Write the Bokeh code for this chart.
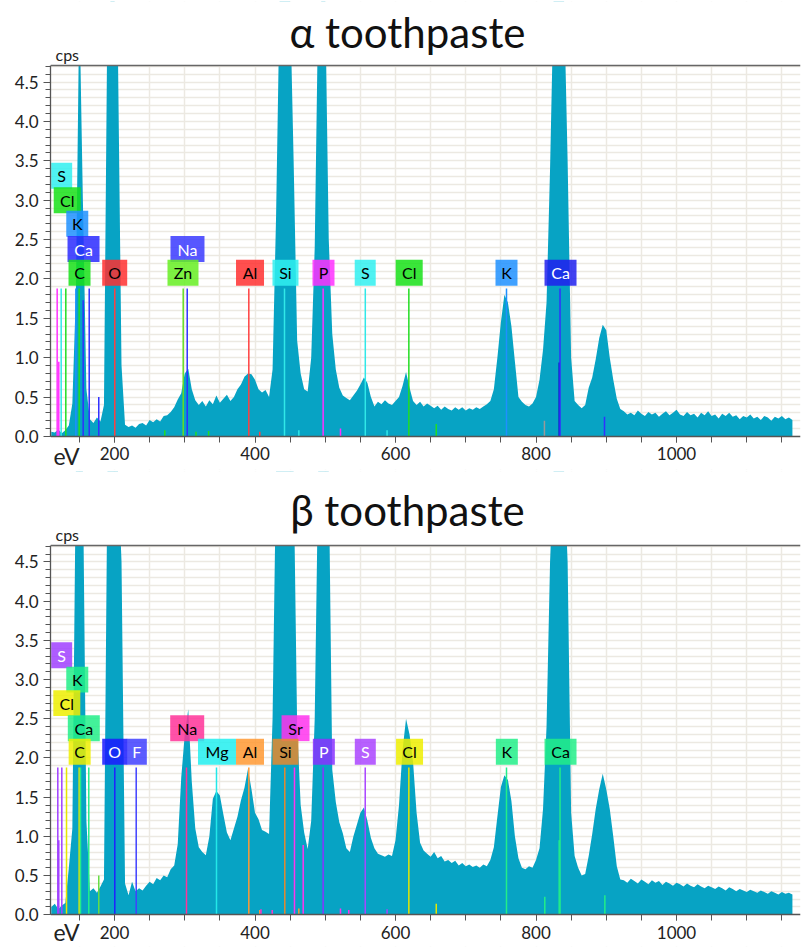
from bokeh.plotting import figure
from bokeh.layouts import column
from bokeh.models import (FixedTicker, PrintfTickFormatter, Label, Span, ColumnDataSource,
                          Range1d, BoxAnnotation)
from bokeh.core.properties import value
from bokeh.embed import file_html
from bokeh.resources import INLINE

FONT = "Lato"

# ---------------- data ----------------
energy = list(range(110, 1170, 5))  # channel grid (eV), 5 eV bins

counts_alpha = [
    0.06, 0.05, 0.09, 0.04, 0.08, 0.14, 0.42, 1.8, 9.0, 3.0,      # 110
    0.6, 0.22, 0.17, 0.24, 0.19, 0.4, 5.5, 12, 14, 4.8,           # 160
    0.9, 0.15, 0.12, 0.14, 0.11, 0.16, 0.17, 0.14, 0.21, 0.18,    # 210
    0.22, 0.19, 0.26, 0.27, 0.31, 0.37, 0.47, 0.55, 0.8, 0.86,    # 260
    0.6, 0.46, 0.4, 0.45, 0.38, 0.46, 0.41, 0.52, 0.43, 0.48,     # 310
    0.53, 0.45, 0.5, 0.6, 0.66, 0.76, 0.8, 0.79, 0.72, 0.6,       # 360
    0.56, 0.59, 0.5, 0.85, 2.8, 8.0, 15, 16, 12, 3.5,             # 410
    1.22, 0.8, 0.6, 0.57, 1.0, 2.4, 5.5, 14, 12, 2.5,             # 460
    1.3, 0.85, 0.62, 0.52, 0.49, 0.46, 0.52, 0.58, 0.66, 0.75,    # 510
    0.68, 0.5, 0.38, 0.44, 0.41, 0.46, 0.42, 0.4, 0.45, 0.5,      # 560
    0.64, 0.82, 0.62, 0.45, 0.4, 0.44, 0.38, 0.42, 0.39, 0.36,    # 610
    0.39, 0.34, 0.38, 0.35, 0.33, 0.37, 0.34, 0.37, 0.33, 0.36,   # 660
    0.34, 0.37, 0.35, 0.38, 0.41, 0.45, 0.6, 1.0, 1.45, 1.8,      # 710
    1.7, 1.4, 0.95, 0.5, 0.44, 0.4, 0.38, 0.42, 0.5, 0.72,        # 760
    1.1, 1.7, 3.4, 12, 16, 15, 8, 3.5, 1.0, 0.45,                 # 810
    0.4, 0.36, 0.4, 0.62, 0.75, 0.98, 1.25, 1.42, 1.35, 1.0,      # 860
    0.72, 0.48, 0.35, 0.32, 0.28, 0.3, 0.27, 0.33, 0.29, 0.26,    # 910
    0.31, 0.28, 0.3, 0.25, 0.29, 0.32, 0.27, 0.3, 0.34, 0.28,     # 960
    0.26, 0.31, 0.27, 0.29, 0.24, 0.3, 0.27, 0.32, 0.26, 0.28,    # 1010
    0.23, 0.29, 0.26, 0.3, 0.25, 0.27, 0.22, 0.26, 0.24, 0.28,    # 1060
    0.23, 0.25, 0.21, 0.26, 0.24, 0.2, 0.25, 0.23, 0.26, 0.22,    # 1110
    0.24, 0.21,                                                   # 1160
]

counts_beta = [
    0.1, 0.14, 0.07, 0.12, 0.15, 0.6, 1.1, 6, 12, 8,              # 110
    1.2, 0.3, 0.34, 0.28, 0.36, 0.45, 6, 14, 16, 14,              # 160
    4.5, 0.4, 0.25, 0.42, 0.3, 0.34, 0.31, 0.37, 0.42, 0.39,      # 210
    0.47, 0.44, 0.5, 0.48, 0.58, 0.63, 0.9, 1.75, 2.3, 2.62,      # 260
    1.7, 1.1, 0.86, 0.8, 0.76, 1.0, 1.48, 1.58, 1.52, 1.28,       # 310
    1.05, 0.95, 1.1, 1.25, 1.46, 1.62, 1.86, 1.6, 1.3, 1.22,      # 360
    1.08, 1.06, 1.03, 2.5, 8, 16, 18, 17, 14, 8,                  # 410
    2.4, 1.4, 1.05, 0.84, 1.2, 2.5, 8, 16, 18, 9,                 # 460
    1.85, 1.44, 1.18, 1.04, 0.85, 0.8, 1.0, 1.15, 1.3, 1.37,      # 510
    1.2, 0.98, 0.85, 0.78, 0.76, 0.74, 0.77, 0.75, 0.95, 1.4,     # 560
    2.1, 2.5, 2.3, 1.95, 1.3, 0.92, 0.82, 0.78, 0.74, 0.8,        # 610
    0.72, 0.75, 0.68, 0.7, 0.66, 0.69, 0.63, 0.66, 0.62, 0.64,    # 660
    0.61, 0.63, 0.6, 0.64, 0.62, 0.7, 0.86, 1.25, 1.63, 1.78,     # 710
    1.72, 1.45, 1.0, 0.72, 0.6, 0.58, 0.62, 0.6, 0.7, 0.85,       # 760
    1.35, 2.4, 4.5, 14, 18, 17, 12, 4.5, 1.3, 0.75,               # 810
    0.6, 0.5, 0.52, 0.75, 1.03, 1.35, 1.6, 1.8, 1.6, 1.35,        # 860
    1.0, 0.62, 0.45, 0.44, 0.41, 0.46, 0.43, 0.4, 0.45, 0.42,     # 910
    0.39, 0.44, 0.41, 0.43, 0.38, 0.42, 0.4, 0.37, 0.41, 0.39,    # 960
    0.36, 0.4, 0.37, 0.35, 0.39, 0.36, 0.34, 0.37, 0.35, 0.33,    # 1010
    0.36, 0.34, 0.31, 0.35, 0.33, 0.3, 0.33, 0.31, 0.29, 0.32,    # 1060
    0.3, 0.28, 0.31, 0.29, 0.27, 0.3, 0.28, 0.26, 0.29, 0.27,     # 1110
    0.28, 0.26,                                                   # 1160
]

x_ticks = [200, 400, 600, 800, 1000]
x_minor = [150, 200, 250, 300, 350, 400, 450, 500, 550, 600, 650, 700, 750,
           800, 850, 900, 950, 1000, 1050, 1100, 1150]
y_ticks = [0.0, 0.5, 1.0, 1.5, 2.0, 2.5, 3.0, 3.5, 4.0, 4.5]
y_minor = [i / 10 for i in range(0, 48)]

# element marker lines (energy, height in cps, colour)
mark_a_e = [118.4, 120.7, 124.1, 130.7, 145.0, 149.7, 155.4, 164.0, 177.6, 200.4,
            271.6, 297.8, 303.5, 316.0, 334.0, 391.2, 406.8, 442.0, 462.4, 497.0,
            521.7, 557.0, 588.0, 619.0, 658.0, 758.0, 812.0, 833.0, 834.2, 897.5]
mark_a_h = [1.88, 0.95, 1.88, 1.88, 1.88, 1.88, 1.73, 1.88, 0.5, 1.88,
            0.08, 1.88, 1.88, 0.06, 0.07, 1.88, 0.06, 1.88, 0.08, 1.88,
            0.1, 1.88, 0.08, 1.88, 0.16, 1.88, 0.2, 0.94, 1.88, 0.25]
mark_a_c = ["#ff30ff", "#ff30ff", "#30e8e8", "#22dd22", "#1e90ff", "#22dd22", "#3030ff", "#3030ff", "#3030ff", "#ff4040",
            "#22dd22", "#66dd22", "#3030ff", "#22dd22", "#22dd22", "#ff4040", "#ff4040", "#30e8e8", "#30e8e8", "#ff30ff",
            "#ff30ff", "#30e8e8", "#30e8e8", "#22dd22", "#22dd22", "#1e90ff", "#999999", "#1010cc", "#3030ff", "#3030ff"]

mark_b_e = [119.3, 120.7, 125.0, 131.7, 149.7, 151.6, 163.4, 177.6, 200.4, 230.9,
            302.5, 345.2, 391.2, 406.8, 408.5, 424.5, 442.4, 456.2, 462.4, 468.6,
            497.0, 521.7, 533.5, 556.9, 588.0, 619.0, 658.0, 758.0, 812.5, 833.0,
            834.2, 898.0]
mark_b_h = [1.88, 0.95, 1.88, 1.88, 1.88, 1.88, 1.88, 0.5, 1.88, 1.88,
            1.88, 1.88, 1.88, 0.06, 0.07, 0.06, 1.88, 1.88, 0.08, 0.89,
            1.88, 0.08, 0.06, 1.88, 0.07, 1.88, 0.14, 1.88, 0.23, 0.95,
            1.88, 0.25]
mark_b_c = ["#a040ff", "#a040ff", "#a040ff", "#e6e600", "#e6e600", "#22ee88", "#22ee88", "#66dd44", "#2020ff", "#4040ff",
            "#ff3399", "#22e8e8", "#ff9933", "#ff9933", "#ff33cc", "#ff33cc", "#e6892e", "#ff33ee", "#ff9933", "#ff33ee",
            "#8833ff", "#ff33ee", "#ff33ee", "#aa44ff", "#aa44ff", "#e6e600", "#e6e600", "#22ee88", "#22ee88", "#22ee88",
            "#22ee88", "#22ee88"]

# element labels (text, centre energy, row)
lab_a_t = ["S", "Cl", "K", "Ca", "Na", "C", "O", "Zn", "Al", "Si", "P", "S", "Cl", "K", "Ca"]
lab_a_x = [124.8, 132.7, 147.0, 155.9, 303.9, 150.2, 200.3, 297.5, 392.9, 443.4, 497.5, 556.9, 619.5, 758.0, 834.9]
lab_a_r = [5, 4, 3, 2, 2, 1, 1, 1, 1, 1, 1, 1, 1, 1, 1]
lab_a_c = ["#30f0f0", "#18e018", "#1e90ff", "#2a2aff", "#3a3aff", "#18e018", "#ff3030", "#66ee22", "#ff3030",
           "#30f0f0", "#ff30ff", "#30f0f0", "#18e018", "#1e90ff", "#2020ee"]

lab_b_t = ["S", "K", "Cl", "Ca", "Na", "Sr", "C", "O", "F", "Mg", "Al", "Si", "P", "S", "Cl", "K", "Ca"]
lab_b_x = [124.8, 147.0, 132.1, 156.3, 303.5, 457.7, 150.4, 200.3, 231.8, 345.9, 392.9, 443.4, 498.0, 557.0, 620.0, 758.5, 834.9]
lab_b_r = [5, 4, 3, 2, 2, 2, 1, 1, 1, 1, 1, 1, 1, 1, 1, 1, 1]
lab_b_c = ["#a040ff", "#22ee88", "#eeee00", "#22ee88", "#ff3399", "#ff33ee", "#eeee00", "#1a1aff", "#4040ff",
           "#22eeee", "#ff9933", "#e6892e", "#8833ff", "#aa44ff", "#eeee00", "#22ee88", "#22ee88"]

# ---------------- styling ----------------
ROW_Y = {1: 2.08, 2: 2.38, 3: 2.70, 4: 3.00, 5: 3.31}
BOX_W = {"S": 21, "Cl": 27, "K": 22, "Ca": 32, "C": 22, "O": 25, "Na": 34, "Zn": 31,
         "Al": 28, "Si": 26, "P": 22, "Mg": 38, "Sr": 28, "F": 20}
DARK = {"#2a2aff", "#3a3aff", "#2020ee", "#1a1aff", "#4040ff", "#a040ff", "#8833ff", "#aa44ff"}
SPEC = "#07a3c4"
YMAX = 4.71               # top of the cps window
X0, X1 = 108.9, 1176.5


def make(title, counts, me, mh, mc, lt, lx, lr, lc, height, y0, y1, title_y, cps_y, ev_y):
    p = figure(width=801, height=height, output_backend="svg", toolbar_location=None,
               x_range=Range1d(X0, X1), y_range=Range1d(y0, y1), title=None,
               min_border=1, min_border_left=50, min_border_right=1, min_border_top=1,
               min_border_bottom=1)
    p.outline_line_color = None
    p.background_fill_color = "white"
    p.border_fill_color = "white"

    # grid
    p.xgrid.ticker = FixedTicker(ticks=x_minor)
    p.ygrid.ticker = FixedTicker(ticks=y_minor)
    p.grid.grid_line_color = "#ece9e2"
    p.grid.grid_line_width = 1.5
    p.add_layout(BoxAnnotation(bottom=y0, top=0, fill_color="white", fill_alpha=1.0,
                               line_color=None, level="underlay"))

    # axes
    p.xaxis.fixed_location = 0
    p.xaxis.ticker = FixedTicker(ticks=x_ticks, minor_ticks=x_minor)
    p.yaxis.ticker = FixedTicker(ticks=y_ticks, minor_ticks=y_minor)
    p.yaxis.formatter = PrintfTickFormatter(format="%.1f")
    p.yaxis.bounds = (0, YMAX)
    for ax in (p.xaxis, p.yaxis):
        ax.axis_line_color = "#555555"
        ax.axis_line_width = 1.3
        ax.major_tick_line_color = "#555555"
        ax.minor_tick_line_color = "#555555"
        ax.major_tick_in = 0
        ax.minor_tick_in = 0
        ax.major_label_text_font = FONT
        ax.major_label_text_font_size = "17px"
        ax.major_label_text_color = "#222222"
    p.xaxis.major_tick_out = 6
    p.xaxis.minor_tick_out = 6
    p.xaxis.major_label_standoff = 5
    p.yaxis.major_tick_out = 7
    p.yaxis.minor_tick_out = 5
    p.yaxis.major_label_standoff = 5

    # spectrum (kept inside the plotting window; the part above YMAX is masked below)
    shown = [min(c, y1) for c in counts]
    p.varea(x=energy, y1=[0] * len(energy), y2=shown, fill_color=SPEC)

    # element marker lines
    msrc = ColumnDataSource(dict(e=me, h=mh, c=mc, z=[0] * len(me)))
    p.segment(x0="e", y0="z", x1="e", y1="h", line_color="c", line_width=1.5, source=msrc)

    # element labels
    lsrc = ColumnDataSource(dict(
        x=lx, y=[ROW_Y[r] for r in lr], t=lt, c=lc,
        w=[BOX_W[t] for t in lt],
        tc=["white" if c in DARK else "black" for c in lc]))
    p.rect(x="x", y="y", width="w", height=0.33, width_units="screen",
           fill_color="c", fill_alpha=0.85, line_color=None, source=lsrc)
    p.text(x="x", y="y", text="t", text_color="tc", text_align="center",
           text_baseline="middle", text_font=value(FONT), text_font_size="16px", source=lsrc)

    # white mask above the cps window: off-scale peaks are cut at the top edge
    p.add_layout(BoxAnnotation(bottom=YMAX, top=y1, fill_color="white", fill_alpha=1.0,
                               line_color=None))
    p.add_layout(Span(location=YMAX, dimension="width", line_color="#666666", line_width=1.3))

    # texts
    p.add_layout(Label(x=357, y=title_y, x_units="screen", y_units="data", text=title,
                       text_font=FONT, text_font_size="42px", text_color="#111111",
                       text_align="center", text_baseline="middle"))
    p.add_layout(Label(x=5, y=cps_y, x_units="screen", y_units="data", text="cps",
                       text_font=FONT, text_font_size="16px", text_color="#222222",
                       text_baseline="middle"))
    p.add_layout(Label(x=3, y=ev_y, x_units="screen", y_units="data", text="eV",
                       text_font=FONT, text_font_size="23px", text_color="#222222",
                       text_baseline="middle"))
    return p


p1 = make("α toothpaste", counts_alpha, mark_a_e, mark_a_h, mark_a_c,
          lab_a_t, lab_a_x, lab_a_r, lab_a_c, height=470, y0=-0.419, y1=5.5225,
          title_y=5.134, cps_y=4.85, ev_y=-0.245)
p2 = make("β toothpaste", counts_beta, mark_b_e, mark_b_h, mark_b_c,
          lab_b_t, lab_b_x, lab_b_r, lab_b_c, height=477, y0=-0.4043, y1=5.6538,
          title_y=5.161, cps_y=4.85, ev_y=-0.225)

layout = column(p1, p2, spacing=0)
open("out.html", "w").write(file_html(layout, INLINE))
